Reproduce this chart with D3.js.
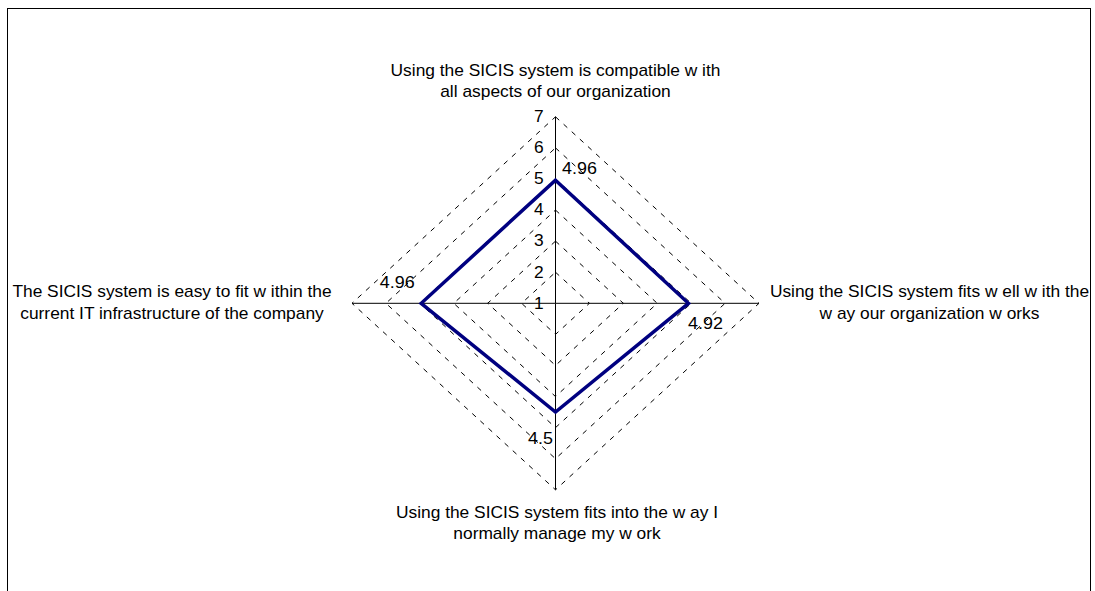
<!DOCTYPE html>
<html>
<head>
<meta charset="utf-8">
<script src="https://cdn.jsdelivr.net/npm/d3@7"></script>
<style>
  body { margin: 0; background: #fff; }
  text { font-family: "Liberation Sans", Arial, sans-serif; fill: #000; }
</style>
</head>
<body>
<svg id="chart"></svg>
<script>
// Chart data
const axisLabels = [
  ["Using the SICIS system is compatible w ith", "all aspects of our organization"],
  ["Using the SICIS system fits w ell w ith the", "w ay our organization w orks"],
  ["Using the SICIS system fits into the w ay I", "normally manage my w ork"],
  ["The SICIS system is easy to fit w ithin the", "current IT infrastructure of the company"]
];
const values = [4.96, 4.92, 4.5, 4.96];
const valueLabels = ["4.96", "4.92", "4.5", "4.96"];
const ticks = [1, 2, 3, 4, 5, 6, 7];

const svgWidth = 1095, svgHeight = 591;
const cx = 555.5, cy = 303.3;
const stretch = 1.085; // text in the picture is slightly wide

const svg = d3.select("#chart").attr("width", svgWidth).attr("height", svgHeight);

// frame
svg.append("rect")
  .attr("x", 7.5).attr("y", 8.5)
  .attr("width", 1083).attr("height", 600)
  .attr("fill", "none").attr("stroke", "#000").attr("stroke-width", 1);

// radial scales (horizontal and vertical radius differ a bit)
const rx = d3.scaleLinear().domain([1, 7]).range([0, 203.5]);
const ry = d3.scaleLinear().domain([1, 7]).range([0, 186.5]);

const g = svg.append("g").attr("transform", "translate(" + cx + "," + cy + ")");

function pt(i, v) {
  const a = i * Math.PI / 2;
  return [Math.sin(a) * rx(v), -Math.cos(a) * ry(v)];
}
const idx = d3.range(axisLabels.length);

// dashed rings
g.selectAll(".ring")
  .data(ticks.slice(1))
  .enter()
  .append("polygon")
  .attr("points", function (t) { return idx.map(function (i) { return pt(i, t).join(","); }).join(" "); })
  .attr("fill", "none")
  .attr("stroke", "#000")
  .attr("stroke-width", 1)
  .attr("stroke-dasharray", "5,6");

// spokes
g.selectAll(".spoke")
  .data(idx)
  .enter()
  .append("line")
  .attr("x1", 0).attr("y1", 0)
  .attr("x2", function (i) { return pt(i, 7)[0]; })
  .attr("y2", function (i) { return pt(i, 7)[1]; })
  .attr("stroke", "#000")
  .attr("stroke-width", 1);

// value ticks on the vertical spoke
const tickScale = d3.scaleLinear().domain([1, 7]).range([0, -186.5]);
const axis = g.append("g")
  .call(d3.axisLeft(tickScale).tickValues(ticks).tickSize(0).tickPadding(11).tickFormat(d3.format("d")));
axis.select(".domain").remove();
axis.selectAll("text")
  .attr("font-family", "Liberation Sans, Arial, sans-serif")
  .attr("font-size", "16px")
  .attr("fill", "#000")
  .attr("dy", "0.3em")
  .attr("transform", "scale(" + stretch + ",1)");

// series
g.append("polygon")
  .attr("points", values.map(function (v, i) { return pt(i, v).join(","); }).join(" "))
  .attr("fill", "none")
  .attr("stroke", "#000080")
  .attr("stroke-width", 3.5)
  .attr("stroke-linejoin", "miter");

// data labels: pushed outward and clockwise from each point
const off = [[24, -12], [17, 20], [-15, 26], [-24, -21]];
g.selectAll(".vlabel")
  .data(values)
  .enter()
  .append("text")
  .attr("transform", function (v, i) {
    const p = pt(i, v);
    return "translate(" + (p[0] + off[i][0]) + "," + (p[1] + off[i][1]) + ") scale(" + stretch + ",1)";
  })
  .attr("text-anchor", "middle")
  .attr("dy", "0.36em")
  .attr("font-size", "16.5px")
  .text(function (v, i) { return valueLabels[i]; });

// category labels
const labelPos = [
  function () { const p = pt(0, 7); return [p[0], p[1] - 41]; },
  function () { const p = pt(1, 7); return [p[0] + 170.5, p[1] - 6]; },
  function () { const p = pt(2, 7); return [p[0] + 1.5, p[1] + 28]; },
  function () { const p = pt(3, 7); return [p[0] - 180, p[1] - 6]; }
];
idx.forEach(function (i) {
  const p = labelPos[i]();
  const t = g.append("text")
    .attr("transform", "translate(" + p[0] + "," + p[1] + ") scale(" + stretch + ",1)")
    .attr("text-anchor", "middle")
    .attr("font-size", "16px");
  axisLabels[i].forEach(function (line, k) {
    t.append("tspan").attr("x", 0).attr("y", k * 21.5).text(line);
  });
});
</script>
</body>
</html>
